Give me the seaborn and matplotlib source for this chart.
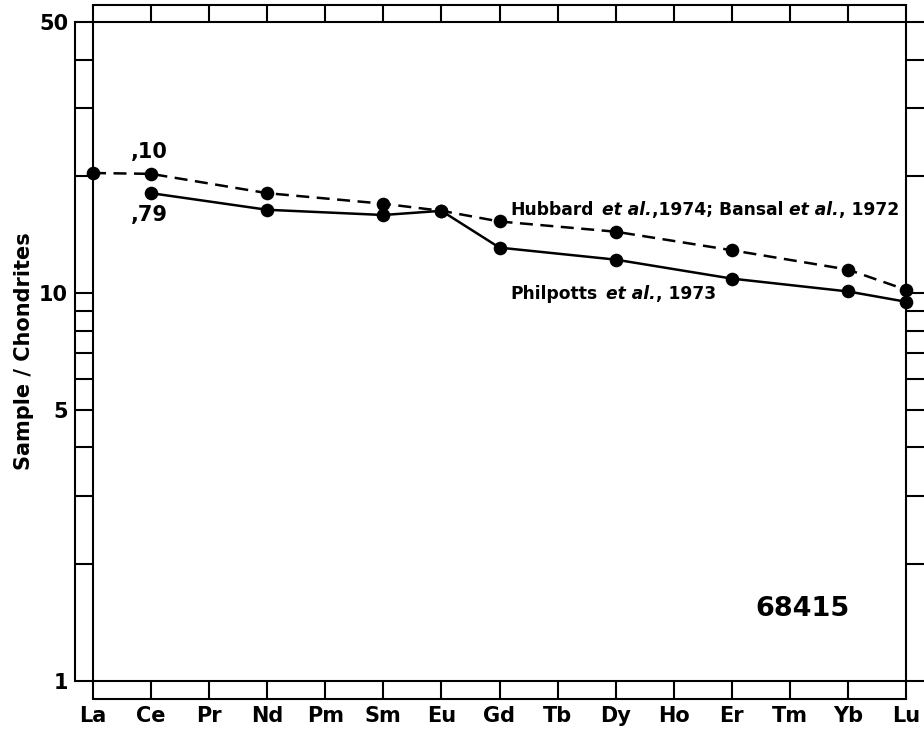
import matplotlib
matplotlib.use("Agg")
import matplotlib.pyplot as plt
import matplotlib.transforms as mtransforms
from matplotlib.lines import Line2D
from matplotlib.ticker import FixedLocator, NullFormatter, FixedFormatter
import pandas as pd
import seaborn as sns

# Rare-earth elements along the x axis
ELEMENTS = ["La", "Ce", "Pr", "Nd", "Pm", "Sm", "Eu", "Gd", "Tb", "Dy",
            "Ho", "Er", "Tm", "Yb", "Lu"]

# Chondrite-normalised abundances, sample 68415
HUBBARD = "Hubbard et al., 1974; Bansal et al., 1972"
hubbard_elems = ["La", "Ce", "Nd", "Sm", "Eu", "Gd", "Dy", "Er", "Yb", "Lu"]
hubbard_vals = [20.4, 20.3, 18.1, 17.0, 16.3, 15.3, 14.4, 12.9, 11.5, 10.2]

PHILPOTTS = "Philpotts et al., 1973"
philpotts_elems = ["Ce", "Nd", "Sm", "Eu", "Gd", "Dy", "Er", "Yb", "Lu"]
philpotts_vals = [18.1, 16.4, 15.9, 16.3, 13.1, 12.2, 10.9, 10.1, 9.5]

Y_MAJOR = [1, 5, 10, 50]
Y_MINOR = [2, 3, 4, 6, 7, 8, 9, 20, 30, 40]

sns.set_style("white")
plt.rcParams["font.family"] = ["DejaVu Sans"]
plt.rcParams["font.weight"] = "bold"
for key in ("text.color", "axes.labelcolor", "xtick.color", "ytick.color",
            "xtick.labelcolor", "ytick.labelcolor"):
    plt.rcParams[key] = "black"

df = pd.concat([
    pd.DataFrame({"pos": [ELEMENTS.index(e) for e in hubbard_elems],
                  "value": hubbard_vals, "series": HUBBARD}),
    pd.DataFrame({"pos": [ELEMENTS.index(e) for e in philpotts_elems],
                  "value": philpotts_vals, "series": PHILPOTTS}),
], ignore_index=True)

DPI = 100
fig = plt.figure(figsize=(9.24, 7.31), dpi=DPI)
W, H = 924, 731
left, right, top, bottom = 93, 906, 22, 681
ax = fig.add_axes([left / W, 1 - bottom / H, (right - left) / W, (bottom - top) / H])

LW = 1.8
sns.lineplot(
    data=df, x="pos", y="value", style="series",
    dashes={HUBBARD: (5.2, 3.0), PHILPOTTS: ""},
    markers={HUBBARD: "o", PHILPOTTS: "o"},
    color="black", linewidth=LW, markersize=9.8,
    markeredgecolor="black", markeredgewidth=0,
    legend=False, ax=ax, clip_on=False, zorder=3,
)

ax.set_yscale("log")
ax.set_ylim(1, 50)
ax.set_xlim(0, len(ELEMENTS) - 1)

# Axis frame
for s in ax.spines.values():
    s.set_visible(True)
    s.set_linewidth(1.5)
    s.set_color("black")

STRIP_PX = 18
tick_len = STRIP_PX * 72 / DPI

ax.yaxis.set_major_locator(FixedLocator(Y_MAJOR))
ax.yaxis.set_major_formatter(FixedFormatter([str(v) for v in Y_MAJOR]))
ax.yaxis.set_minor_locator(FixedLocator(Y_MINOR))
ax.yaxis.set_minor_formatter(NullFormatter())
ax.set_xticks(range(len(ELEMENTS)))
ax.set_xticklabels(ELEMENTS)

ax.tick_params(axis="both", which="both", direction="out", length=tick_len,
               width=1.5, color="black", labelcolor="black", left=True,
               right=True, top=True, bottom=True, labelright=False,
               labeltop=False)
ax.tick_params(axis="y", which="major", labelsize=15, pad=5)
ax.tick_params(axis="x", which="major", labelsize=15, pad=5)
for lab in ax.get_xticklabels() + ax.get_yticklabels():
    lab.set_fontweight("bold")

# Outer edges of the tick strips
def strip_edge(xs, ys, dx, dy):
    tr = ax.transAxes + mtransforms.ScaledTranslation(dx / DPI, dy / DPI,
                                                      fig.dpi_scale_trans)
    ax.add_line(Line2D(xs, ys, transform=tr, clip_on=False, lw=1.5,
                       color="black", solid_capstyle="projecting"))

strip_edge([0, 0], [0, 1], -STRIP_PX, 0)
strip_edge([0, 1], [0, 0], 0, -STRIP_PX)
strip_edge([0, 1], [1, 1], 0, STRIP_PX - 1)

ax.set_xlabel("")
ax.set_ylabel("Sample / Chondrites", fontsize=15, fontweight="bold",
              color="black")
ax.yaxis.set_label_coords((34 - left) / (right - left), 0.5)


def rich_text(x, y, parts, size):
    """Draw a run of text pieces (text, italic?, gap-in-points) on one baseline."""
    prev = None
    for text, italic, gap in parts:
        style = "italic" if italic else "normal"
        if prev is None:
            prev = ax.text(x, y, text, fontsize=size, fontweight="bold",
                           fontstyle=style, ha="left", va="baseline",
                           color="black")
        else:
            prev = ax.annotate(text, xy=(1, 0), xycoords=prev,
                               xytext=(gap, 0), textcoords="offset points",
                               fontsize=size, fontweight="bold",
                               fontstyle=style, ha="left", va="bottom",
                               color="black")


# Annotations
ax.text(0.655, 23.1, ",10", fontsize=15, fontweight="bold", ha="left",
        va="center", color="black")
ax.text(0.655, 15.9, ",79", fontsize=15, fontweight="bold", ha="left",
        va="center", color="black")
rich_text(7.19, 15.94, [("Hubbard", False, 0), ("et al.", True, 6),
                        (",1974; Bansal", False, 0), ("et al.", True, 4),
                        (", 1972", False, 0)], 12.3)
rich_text(7.19, 9.63, [("Philpotts", False, 0), ("et al.", True, 6),
                       (", 1973", False, 0)], 12.3)
ax.text(12.21, 1.533, "68415", fontsize=19.5, fontweight="bold",
        ha="center", va="center", color="black")

fig.savefig("out.png", dpi=DPI)
